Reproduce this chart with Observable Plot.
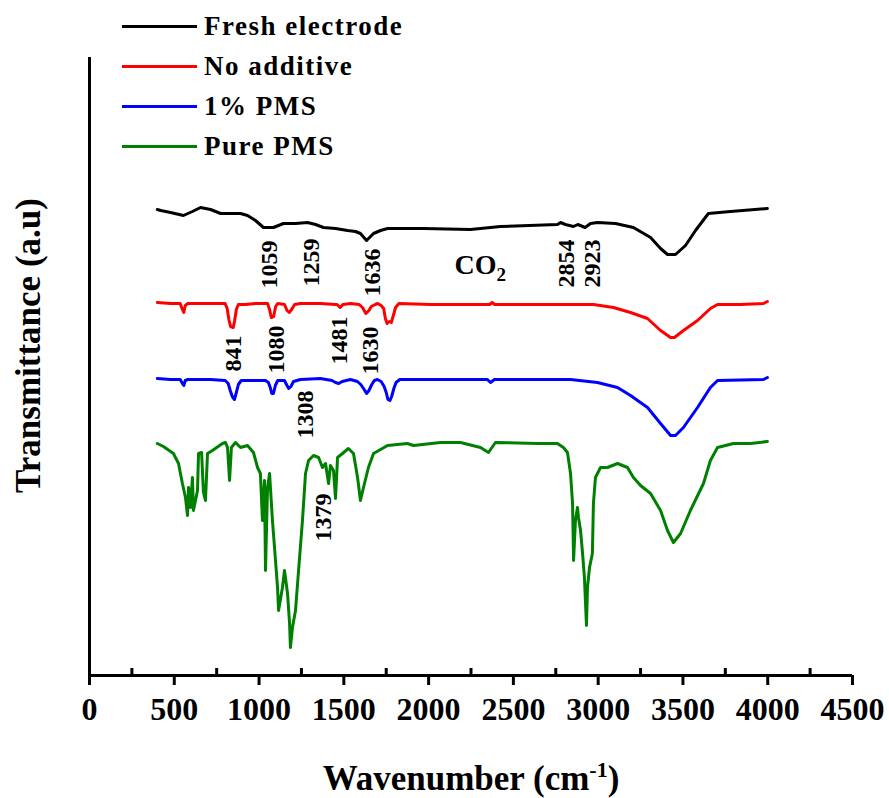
<!DOCTYPE html>
<html><head><meta charset="utf-8">
<script src="https://cdn.jsdelivr.net/npm/d3@7"></script>
<script src="https://cdn.jsdelivr.net/npm/@observablehq/plot@0.6"></script>
<style>
body{margin:0;background:#fff}
#wrap{position:relative;width:889px;height:798px}
#legend{position:absolute;left:122px;top:6px;font-family:'Liberation Serif','Times New Roman',serif;font-weight:bold;font-size:27px;letter-spacing:1.5px;color:#000}
.row{display:flex;align-items:center;height:40px;white-space:nowrap}
.sw{display:inline-block;width:75px;height:3px;margin-right:7px}
</style></head><body><div id="wrap"></div>
<script>
// ---- data (wavenumber cm^-1, transmittance a.u. with vertical offsets) ----
const seriesNames = ["Fresh electrode", "No additive", "1% PMS", "Pure PMS"];
const seriesColors = ["#000000", "#ff0000", "#0000ff", "#008000"];

const fresh = [[400,466],[420,465],[478,463],[554,460],[607,464],[655,468],[714,466],[773,462],[832,462],[891,462],[932,460],[979,455],[1026,448],[1056,448],[1085,448],[1144,452],[1215,452],[1286,453],[1333,451],[1380,448],[1451,447],[1522,445],[1569,444],[1598,442],[1634,435],[1675,442],[1716,445],[1758,447],[1834,447],[1970,447],[2247,446],[2424,449],[2760,451],[2778,453],[2807,451],[2854,449],[2880,451],[2923,448],[2955,452],[2996,453],[3102,452],[3208,448],[3309,438],[3368,427],[3409,421],[3456,421],[3515,430],[3574,445],[3650,462],[3780,464],[3998,467]];

const noAdditive = [[400,373],[478,372],[535,372],[548,366],[556,363],[565,370],[580,372],[714,372],[800,372],[812,367],[822,356],[832,349],[848,348],[856,355],[866,366],[878,371],[920,371],[979,372],[1050,372],[1062,366],[1072,358],[1086,359],[1098,369],[1110,372],[1150,371],[1165,365],[1178,363],[1192,366],[1210,371],[1244,372],[1362,372],[1451,371],[1460,371],[1478,368],[1495,371],[1539,372],[1590,371],[1610,368],[1630,362],[1648,365],[1662,369],[1685,371],[1700,372],[1720,370],[1735,367],[1745,357],[1755,352],[1768,354],[1780,353],[1792,360],[1805,368],[1825,372],[2011,371],[2360,371],[2375,373],[2390,371],[2972,371],[3090,368],[3191,363],[3291,357],[3368,345],[3427,338],[3450,338],[3503,345],[3586,355],[3662,367],[3704,371],[3839,371],[3975,372],[3998,374]];

const onePctPMS = [[400,297],[478,296],[535,296],[548,292],[556,290],[565,295],[580,296],[714,296],[800,295],[818,292],[830,285],[842,279],[855,276],[866,283],[878,291],[895,295],[940,295],[1038,295],[1055,293],[1066,288],[1075,282],[1085,282],[1096,290],[1110,295],[1150,295],[1165,290],[1175,287],[1188,289],[1203,294],[1244,296],[1362,297],[1430,295],[1451,293],[1470,292],[1490,294],[1539,296],[1580,294],[1600,291],[1620,286],[1634,282],[1648,285],[1665,291],[1680,295],[1698,296],[1720,294],[1738,289],[1750,283],[1760,276],[1772,275],[1782,279],[1795,287],[1808,293],[1830,296],[2011,296],[2347,296],[2365,293],[2388,296],[2837,296],[2996,293],[3114,288],[3191,280],[3291,268],[3368,252],[3427,240],[3456,240],[3503,248],[3586,268],[3662,288],[3704,295],[3975,296],[3998,298]];

const purePMS = [[400,232],[436,229],[495,222],[525,212],[548,192],[566,178],[578,160],[584,188],[596,168],[607,198],[613,165],[637,185],[643,222],[661,223],[672,183],[684,175],[696,222],[725,225],[784,232],[802,233],[814,228],[826,195],[837,228],[861,233],[891,228],[932,230],[967,223],[991,208],[1008,202],[1020,155],[1032,195],[1038,105],[1050,188],[1062,202],[1079,155],[1097,115],[1109,88],[1115,65],[1138,88],[1150,105],[1168,82],[1180,52],[1185,28],[1197,48],[1215,65],[1233,105],[1256,155],[1274,202],[1292,215],[1321,220],[1351,218],[1374,208],[1392,212],[1410,192],[1421,210],[1439,205],[1451,177],[1463,218],[1492,222],[1527,227],[1557,222],[1581,198],[1598,175],[1616,188],[1645,208],[1675,222],[1758,230],[1875,232],[1911,230],[2070,233],[2188,233],[2306,228],[2353,223],[2394,233],[2642,232],[2760,232],[2795,228],[2819,223],[2837,202],[2849,172],[2855,115],[2866,155],[2878,168],[2884,158],[2896,145],[2908,122],[2919,98],[2931,50],[2937,88],[2949,108],[2966,122],[2972,172],[2984,198],[3014,208],[3055,208],[3114,212],[3173,208],[3208,198],[3250,190],[3309,182],[3368,165],[3409,145],[3444,133],[3486,142],[3544,165],[3621,192],[3662,215],[3704,228],[3798,232],[3898,232],[3998,234]];

// peak annotations
const annotLabels = ["1059","1259","1636","2854","2923","841","1080","1481","1630","1308","1379"];
const annotWn     = [1062, 1309, 1669, 2813, 2966, 849, 1103, 1474, 1657, 1274, 1380];
const annotT      = [411, 413, 403, 412, 412, 322, 326, 335, 325, 261, 158];
const co2Label = "CO₂";
const co2Wn = 2305;
const co2T = 410;

// axis ticks and titles
const majorTicks = [0,500,1000,1500,2000,2500,3000,3500,4000,4500];
const minorTicks = [250,750,1250,1750,2250,2750,3250,3750,4250];
const xTitle = "Wavenumber (cm⁻¹)";
const yTitle = "Transmittance (a.u)";

// ---- build ----
const allSeries = [fresh, noAdditive, onePctPMS, purePMS];
const table = [];
allSeries.forEach((s, k) => s.forEach(([wn, t]) => table.push({series: seriesNames[k], wn, t})));
const annotIdx = annotLabels.map((_, i) => i);
const serif = "'Liberation Serif','Times New Roman',serif";

const chart = Plot.plot({
  width: 889, height: 798,
  marginLeft: 89, marginRight: 37, marginTop: 57, marginBottom: 123,
  x: {domain: [0, 4500]},
  y: {domain: [0, 618], axis: null},
  color: {domain: seriesNames, range: seriesColors},
  style: {fontFamily: serif, fontWeight: "bold", background: "white", color: "black"},
  marks: [
    Plot.line(table, {x: "wn", y: "t", z: "series", stroke: "series", strokeWidth: 3, strokeLinejoin: "round", strokeLinecap: "round"}),
    Plot.text(annotIdx, {x: i => annotWn[i], y: i => annotT[i], text: i => annotLabels[i], rotate: -90, fontSize: 24, fill: "black"}),
    Plot.text([co2Label], {x: () => co2Wn, y: () => co2T, text: d => d, fontSize: 28, fill: "black"}),
    Plot.ruleX([0], {strokeWidth: 3}),
    Plot.ruleY([0], {strokeWidth: 3}),
    Plot.axisX({ticks: majorTicks, tickSize: 10, tickPadding: 12, strokeWidth: 3, fontSize: 32, tickFormat: "d", label: null}),
    Plot.axisX({ticks: minorTicks, tickSize: -7, strokeWidth: 3, tickFormat: () => "", label: null}),
    Plot.text([xTitle], {frameAnchor: "bottom", dy: 103, text: d => d, fontSize: 35, fill: "black", textAnchor: "middle", lineAnchor: "middle"}),
    Plot.text([yTitle], {frameAnchor: "left", rotate: -90, dx: -61, dy: -21, text: d => d, fontSize: 35, fill: "black", textAnchor: "middle", lineAnchor: "middle"})
  ]
});

// superscript / subscript as real tspans
const NS = "http://www.w3.org/2000/svg";
chart.querySelectorAll("text").forEach(t => {
  if (t.textContent === xTitle) {
    t.textContent = "Wavenumber (cm";
    const sup = document.createElementNS(NS, "tspan");
    sup.setAttribute("dy", "-13"); sup.setAttribute("font-size", "22"); sup.textContent = "-1";
    const close = document.createElementNS(NS, "tspan");
    close.setAttribute("dy", "13"); close.setAttribute("font-size", "35"); close.textContent = ")";
    t.appendChild(sup); t.appendChild(close);
  } else if (t.textContent === co2Label) {
    t.textContent = "CO";
    const sub = document.createElementNS(NS, "tspan");
    sub.setAttribute("dy", "7"); sub.setAttribute("font-size", "19"); sub.textContent = "2";
    t.appendChild(sub);
  }
});

const wrap = document.getElementById("wrap");
wrap.appendChild(chart);

// legend (HTML overlay)
const legend = document.createElement("div");
legend.id = "legend";
seriesNames.forEach((name, k) => {
  const row = document.createElement("div");
  row.className = "row";
  const sw = document.createElement("span");
  sw.className = "sw"; sw.style.background = seriesColors[k];
  const label = document.createElement("span");
  label.textContent = name;
  row.appendChild(sw); row.appendChild(label);
  legend.appendChild(row);
});
wrap.appendChild(legend);
</script></body></html>
